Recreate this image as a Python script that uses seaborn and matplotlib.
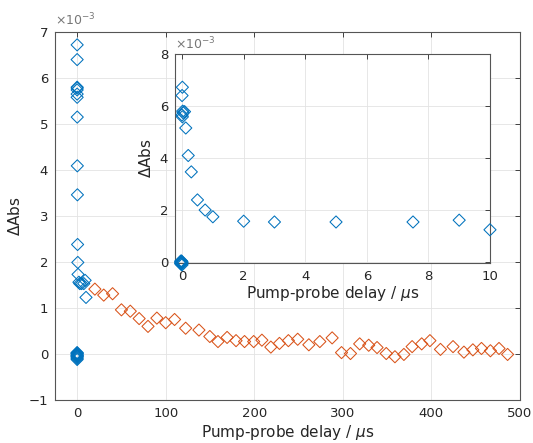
import numpy as np
import pandas as pd
import seaborn as sns
import matplotlib.pyplot as plt

# ΔAbs values are in units of 1e-3
# negative / zero delay points (µs)
neg_t = [-0.05, -0.045, -0.04, -0.035, -0.03, -0.025, -0.02, -0.015, -0.01, -0.005, 0.0, 0.0]
neg_v = [-0.05, 0.02, -0.08, 0.01, -0.03, -0.10, 0.03, -0.06, -0.02, 0.0, -0.04, -0.12]

# short time series (µs)
short_t = [0.01, 0.0, 0.02, 0.03, 0.0, 0.08, 0.01, 0.12, 0.2, 0.3, 0.5, 0.75, 1.0,
           2.0, 3.0, 5.0, 7.5, 9.0, 10.0]
short_v = [6.72, 6.40, 5.80, 5.74, 5.65, 5.78, 5.58, 5.15, 4.09, 3.46, 2.38, 1.99, 1.73,
           1.56, 1.53, 1.53, 1.53, 1.60, 1.23]

# long time series (µs)
long_t = [20, 30, 40, 50, 60, 70, 80, 90, 100, 110, 122.5, 137.5, 149.8, 159, 169.3,
          179.4, 189, 199.3, 208.6, 218.7, 228.4, 238.5, 249, 261.6, 274, 287.9, 298.5,
          308.6, 319, 329.2, 338.6, 349, 358.8, 368.9, 378.2, 389, 398.3, 410.2, 424.4,
          436.7, 446.8, 456.5, 466.6, 476.3, 486]
long_v = [1.41, 1.28, 1.31, 0.96, 0.93, 0.77, 0.60, 0.78, 0.68, 0.75, 0.56, 0.52, 0.38,
          0.27, 0.36, 0.29, 0.27, 0.27, 0.30, 0.15, 0.23, 0.29, 0.32, 0.20, 0.27, 0.35,
          0.03, 0.01, 0.22, 0.19, 0.14, 0.01, -0.06, -0.01, 0.16, 0.22, 0.29, 0.10, 0.16,
          0.04, 0.09, 0.12, 0.07, 0.12, -0.01]

BLUE = "#0072BD"
ORANGE = "#D95319"
TXT = "#262626"

sns.set_style("white")
plt.rcParams.update({
    "font.family": ["DejaVu Sans"],
    "xtick.direction": "in",
    "ytick.direction": "in",
    "xtick.top": True,
    "ytick.right": True,
    "xtick.color": TXT,
    "ytick.color": TXT,
    "xtick.labelcolor": TXT,
    "ytick.labelcolor": TXT,
    "xtick.major.size": 3.5,
    "ytick.major.size": 3.5,
    "xtick.major.width": 0.6,
    "ytick.major.width": 0.6,
    "axes.edgecolor": "#555555",
    "axes.linewidth": 0.8,
})

blue = pd.DataFrame({"t": neg_t + short_t, "v": neg_v + short_v})
orange = pd.DataFrame({"t": long_t, "v": long_v})


def style_axes(ax):
    ax.grid(True, color="#e3e3e3", linewidth=0.6)
    ax.set_axisbelow(True)
    ax.tick_params(labelsize=9.5, pad=5)
    for s in ax.spines.values():
        s.set_visible(True)
    ax.text(0, 1.01, "\u00d710$^{-3}$", transform=ax.transAxes, ha="left",
            va="bottom", fontsize=9, color="#777777")


def scatter(ax, df, color, clip=True):
    sns.scatterplot(data=df, x="t", y="v", ax=ax, marker="D", s=38,
                    facecolor="none", edgecolor=color, linewidth=0.75,
                    clip_on=clip, zorder=3)


fig = plt.figure(figsize=(5.33, 4.43), dpi=100)

ax = fig.add_axes([0.1032, 0.0971, 0.8724, 0.8307])
scatter(ax, blue, BLUE)
scatter(ax, orange, ORANGE)
ax.set_xlim(-25, 500)
ax.set_ylim(-1, 7)
ax.set_xticks(range(0, 501, 100))
ax.set_yticks(range(-1, 8))
ax.set_xlabel(r"Pump-probe delay / $\mu$s", fontsize=11, color=TXT, labelpad=2)
ax.set_ylabel(r"$\Delta$Abs", fontsize=11, color=TXT, labelpad=4)
style_axes(ax)

ins = fig.add_axes([0.3283, 0.4063, 0.591, 0.4718])
ins.set_facecolor("white")
scatter(ins, blue, BLUE, clip=False)
ins.set_xlim(-0.23, 10)
ins.set_ylim(-0.05, 8)
ins.set_xticks(range(0, 11, 2))
ins.set_yticks(range(0, 9, 2))
ins.set_xlabel(r"Pump-probe delay / $\mu$s", fontsize=11, color=TXT, labelpad=1)
ins.set_ylabel(r"$\Delta$Abs", fontsize=11, color=TXT, labelpad=4)
style_axes(ins)

fig.savefig("out.png", dpi=100)
